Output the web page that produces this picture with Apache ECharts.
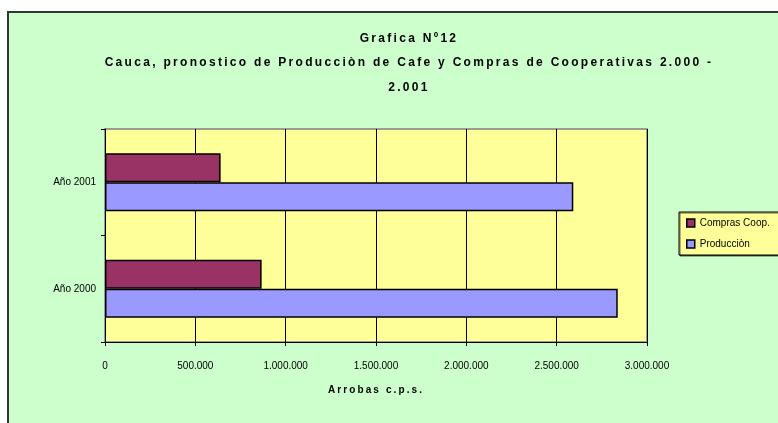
<!DOCTYPE html>
<html>
<head>
<meta charset="utf-8">
<script src="https://cdn.jsdelivr.net/npm/echarts@6/dist/echarts.min.js"></script>
<style>html,body{margin:0;padding:0;background:#fff}#c{width:778px;height:423px}</style>
</head>
<body>
<div id="c"></div>
<script>
const categories = ['Año 2000', 'Año 2001'];
const comprasCoop = [867000, 640000];
const produccion = [2838000, 2592000];
const seriesNames = ['Compras Coop.', 'Producciòn'];
const xTickLabels = ['0', '500.000', '1.000.000', '1.500.000', '2.000.000', '2.500.000', '3.000.000'];
const titleText = 'Grafica Nº12\nCauca, pronostico de Producciòn de Cafe y Compras de Cooperativas 2.000 -\n2.001';
const xAxisName = 'Arrobas c.p.s.';

// Excel-style letter spacing for bold texts (title and axis name)
(function () {
  const proto = CanvasRenderingContext2D.prototype;
  if (!('letterSpacing' in proto)) return;
  const orig = proto.fillText;
  proto.fillText = function (t, x, y, w) {
    const f = this.font || '';
    if (/bold|700/.test(f)) {
      this.letterSpacing = /\b10px/.test(f) ? '2.1px' : '2.3px';
    } else {
      this.letterSpacing = '0px';
    }
    const r = orig.apply(this, arguments);
    this.letterSpacing = '0px';
    return r;
  };
})();

const chart = echarts.init(document.getElementById('c'), null, {renderer: 'canvas'});
const FONT = '"Liberation Sans", Arial, sans-serif';
chart.setOption({
  backgroundColor: '#ffffff',
  animation: false,
  graphic: [{
    type: 'rect', z: -10, silent: true,
    shape: {x: 8, y: 12, width: 800, height: 500},
    style: {fill: '#CCFFCC', stroke: '#333333', lineWidth: 2}
  }],
  title: {
    text: titleText,
    left: 404, top: 21, textAlign: 'center',
    textStyle: {fontFamily: FONT, fontWeight: 'bold', fontSize: 12, lineHeight: 24.7, color: '#000'}
  },
  legend: {
    orient: 'vertical', left: 679, top: 212,
    data: seriesNames,
    icon: 'rect', itemWidth: 8, itemHeight: 8, itemGap: 11,
    backgroundColor: '#FFFF99', borderColor: '#000', borderWidth: 1,
    padding: [6, 30, 6, 7],
    shadowColor: 'rgba(0,0,0,0.6)', shadowOffsetX: 1, shadowOffsetY: 1,
    itemStyle: {borderColor: '#000', borderWidth: 1.5},
    textStyle: {fontFamily: FONT, fontSize: 10, color: '#000'}
  },
  grid: {
    left: 105, right: 131, top: 129, bottom: 81,
    show: true, backgroundColor: '#FFFF99', borderColor: '#808080', borderWidth: 1.5
  },
  xAxis: {
    type: 'value', min: 0, max: 3000000, interval: 500000,
    name: xAxisName, nameLocation: 'middle', nameGap: 43,
    nameTextStyle: {fontFamily: FONT, fontWeight: 'bold', fontSize: 10, color: '#000'},
    axisLine: {show: true, lineStyle: {color: '#000', width: 1}},
    axisTick: {show: true, length: 4, lineStyle: {color: '#000'}},
    axisLabel: {
      margin: 19, fontFamily: FONT, fontSize: 10, color: '#000',
      formatter: v => xTickLabels[Math.round(v / 500000)]
    },
    splitLine: {show: true, lineStyle: {color: '#000', width: 1}}
  },
  yAxis: {
    type: 'category', data: categories,
    axisLine: {show: true, lineStyle: {color: '#000', width: 1}},
    axisTick: {show: true, length: 4, lineStyle: {color: '#000'}},
    axisLabel: {margin: 9, fontFamily: FONT, fontSize: 10, color: '#000'},
    splitLine: {show: false}
  },
  series: [
    {
      name: seriesNames[0], type: 'bar', data: comprasCoop,
      barWidth: 29, barGap: '0%',
      itemStyle: {color: '#993366', borderColor: '#000', borderWidth: 1.5}
    },
    {
      name: seriesNames[1], type: 'bar', data: produccion,
      barWidth: 29, barGap: '0%',
      itemStyle: {color: '#9999FF', borderColor: '#000', borderWidth: 1.5}
    }
  ]
});
</script>
</body>
</html>
